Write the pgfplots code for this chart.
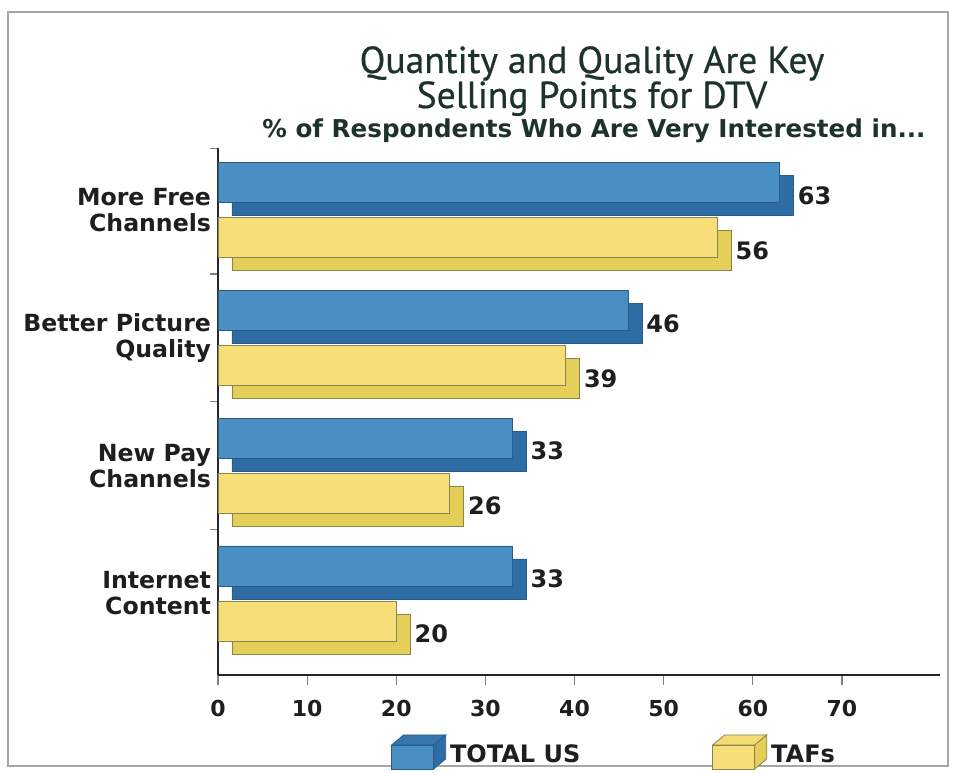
\documentclass[border=0pt]{standalone}
\usepackage{fontspec}
\setmainfont{DejaVu Sans}
\newfontfamily\titlefont[FakeBold=0.6]{PT Sans}
\usepackage{pgfplots}
\usepackage{pgfplotstable}
\pgfplotsset{compat=1.18}
\definecolor{blueF}{HTML}{4A8FC4}
\definecolor{blueD}{HTML}{2E6CA5}
\definecolor{blueE}{HTML}{2A5C88}
\definecolor{yelF}{HTML}{F7DE78}
\definecolor{yelD}{HTML}{E6CF58}
\definecolor{yelE}{HTML}{8C8450}
\definecolor{txt}{HTML}{1E1E1E}
\definecolor{ttl}{HTML}{1E3328}

\pgfplotstableread{
y total tafs
3 63 56
2 46 39
1 33 26
0 33 20
}\datatable

\begin{document}
\begin{tikzpicture}
\path[use as bounding box] (-109pt,-48.5pt) rectangle (370pt,337.5pt);
\draw[gray!70, line width=0.6pt] (-105pt,-45.5pt) rectangle (365pt,331.5pt);
\begin{axis}[
  at={(0pt,0pt)}, anchor=south west,
  scale only axis, width=361pt, height=263.5pt,
  xmin=0, xmax=81, ymin=-0.638, ymax=3.485,
  axis x line*=bottom, axis y line*=left,
  axis line style={line width=1.1pt, black!85, -},
  xtick={0,10,...,70},
  ytick={0,1,2,3},
  yticklabels={Internet\\Content, New Pay\\Channels, Better Picture\\Quality, More Free\\Channels},
  yticklabel style={align=right, font=\bfseries\fontsize{11.8}{13}\selectfont, text=txt, xshift=5pt},
  minor ytick={0.5,1.5,2.5,3.48},
  tick align=outside,
  major y tick style={draw=none},
  minor y tick style={gray, line width=0.6pt},
  minor tick length=4pt,
  major tick length=5pt,
  x tick style={gray, line width=0.6pt},
  xticklabel style={font=\bfseries\fontsize{11}{13}\selectfont, text=txt, yshift=-4pt},
  /pgf/number format/assume math mode=true,
  clip=false,
  legend style={at={(0.55,-0.146)}, anchor=center, draw=none, fill=none,
    legend columns=2, font=\bfseries\fontsize{12}{14}\selectfont, text=txt,
    /tikz/every even column/.append style={column sep=64pt}},
  legend cell align=left,
]
% TOTAL US depth
\addplot[xbar, bar width=20pt, bar shift=7.25pt, xshift=7pt, fill=blueD, draw=blueE, line width=0.4pt, forget plot,
  point meta=x, nodes near coords,
  nodes near coords style={anchor=west, inner sep=2pt, yshift=7.25pt, font=\bfseries\fontsize{12}{14}\selectfont, text=txt}]
  table[x=total,y=y]{\datatable};
% TOTAL US front
\addplot[xbar, bar width=20pt, bar shift=13.75pt, fill=blueF, draw=blueE, line width=0.4pt,
  legend image code/.code={
    \draw[fill=blueF, draw=blueE] (0pt,-7pt) rectangle (21pt,5pt);
    \draw[fill=blueD!70!blueF, draw=blueE] (0pt,5pt) -- (6pt,10pt) -- (27pt,10pt) -- (21pt,5pt) -- cycle;
    \draw[fill=blueD, draw=blueE] (21pt,-7pt) -- (27pt,-2pt) -- (27pt,10pt) -- (21pt,5pt) -- cycle;
  }]
  table[x=total,y=y]{\datatable};
% TAFs depth
\addplot[xbar, bar width=20pt, bar shift=-20.25pt, xshift=7pt, fill=yelD, draw=yelE, line width=0.4pt, forget plot,
  point meta=x, nodes near coords,
  nodes near coords style={anchor=west, inner sep=2pt, yshift=-20.25pt, font=\bfseries\fontsize{12}{14}\selectfont, text=txt}]
  table[x=tafs,y=y]{\datatable};
% TAFs front
\addplot[xbar, bar width=20pt, bar shift=-13.75pt, fill=yelF, draw=yelE, line width=0.4pt,
  legend image code/.code={
    \draw[fill=yelF, draw=yelE] (0pt,-7pt) rectangle (21pt,5pt);
    \draw[fill=yelF!85!yelD, draw=yelE] (0pt,5pt) -- (6pt,10pt) -- (27pt,10pt) -- (21pt,5pt) -- cycle;
    \draw[fill=yelD, draw=yelE] (21pt,-7pt) -- (27pt,-2pt) -- (27pt,10pt) -- (21pt,5pt) -- cycle;
  }]
  table[x=tafs,y=y]{\datatable};
\legend{TOTAL US, TAFs}
\end{axis}
\node[anchor=base, text=ttl, font=\titlefont\fontsize{18.8}{18.8}\selectfont] at (187pt,301pt) {Quantity and Quality Are Key};
\node[anchor=base, text=ttl, font=\titlefont\fontsize{18.8}{18.8}\selectfont] at (187pt,283.5pt) {Selling Points for DTV};
\node[anchor=base, text=ttl, font=\bfseries\fontsize{12.3}{14}\selectfont] at (188pt,268.5pt) {\% of Respondents Who Are Very Interested in...};
\end{tikzpicture}
\end{document}
